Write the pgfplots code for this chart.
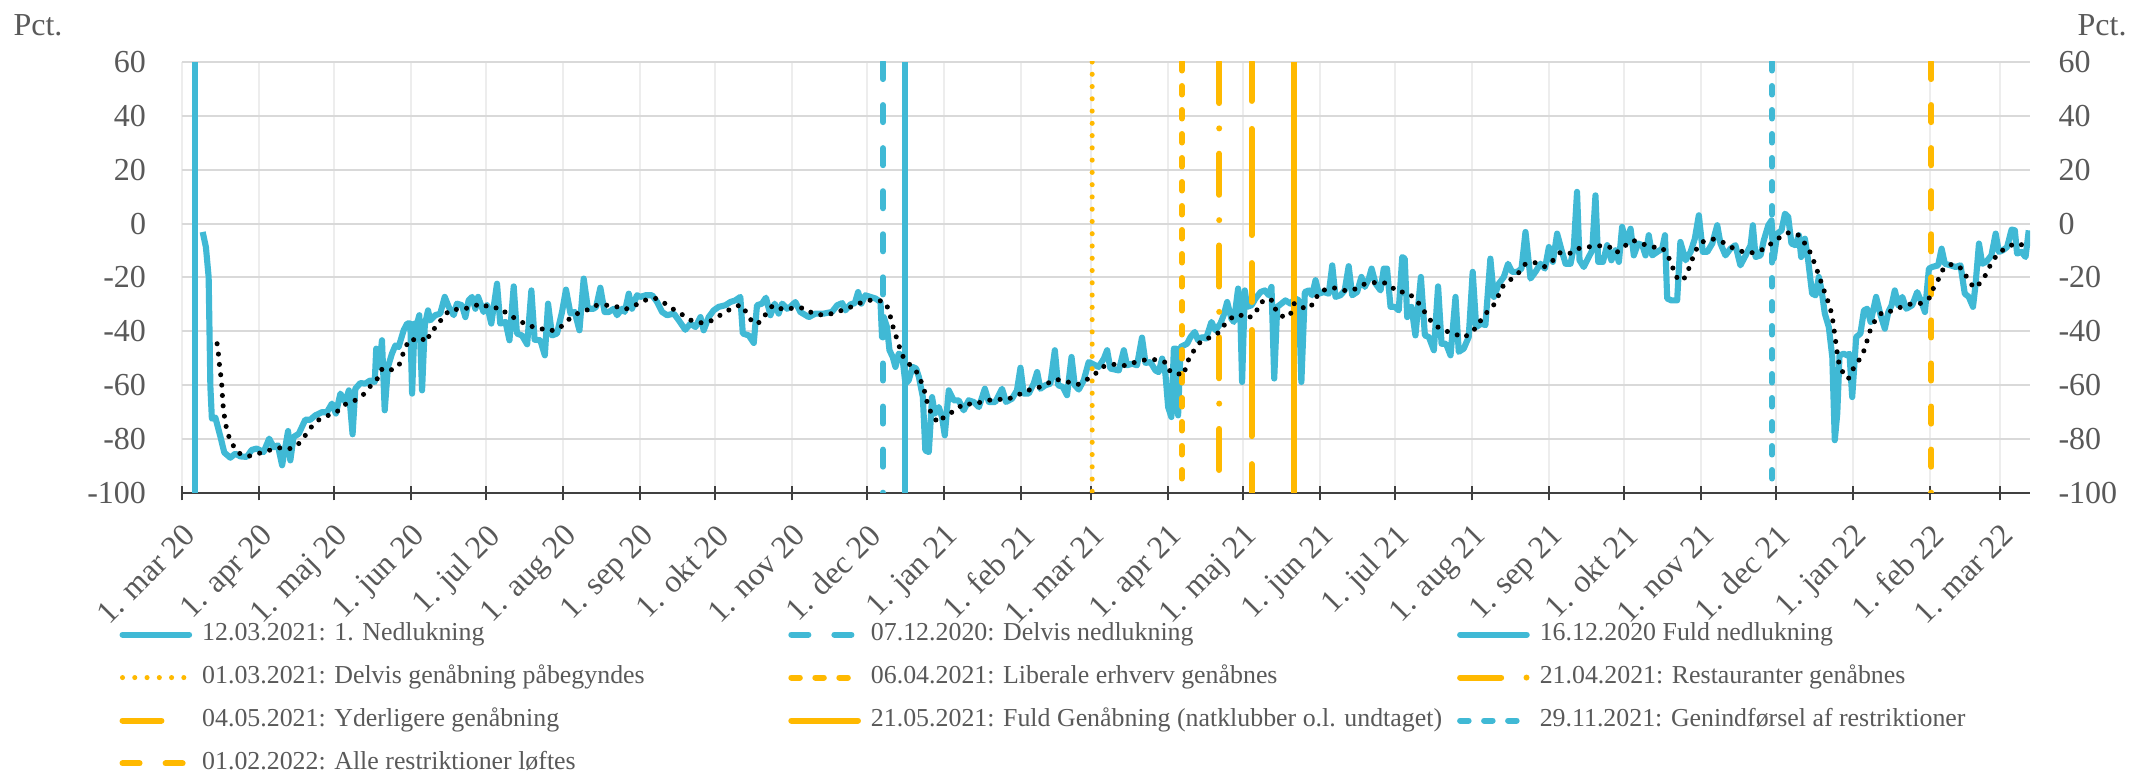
\documentclass[border=0pt]{standalone}
\usepackage{fontspec}
\setmainfont{Liberation Serif}
\usepackage{pgfplots}
\pgfplotsset{compat=1.18}
\definecolor{cblue}{HTML}{40B9D5}
\definecolor{cyel}{HTML}{FFB900}
\definecolor{ctext}{HTML}{595959}
\definecolor{cgridh}{HTML}{D9D9D9}
\definecolor{cgridv}{HTML}{EDEDED}
\definecolor{caxis}{HTML}{404040}

\pgfplotstableread{
d v
8.3 -3.1
9.6 -8.7
10.7 -19.8
11.4 -60.6
12 -72.4
13.4 -72
15.4 -79
17 -85
19.4 -86.9
21.4 -85.4
23.4 -86.4
26 -86.6
28 -84
30 -83.5
32.8 -84.8
35 -79.8
36.8 -83
38.5 -82.3
40.2 -89.7
42.6 -77
43.5 -87.9
44.8 -79.2
46.9 -78
49.5 -72.8
51.5 -72.8
53.5 -71.2
56.2 -70
58.2 -70
60.2 -66.8
61.8 -70.5
63.6 -63.1
65.6 -66.2
67 -61.9
68.5 -78.2
69.6 -61.3
71.6 -59.2
73.6 -59.4
75.6 -58.2
77.4 -58.8
78 -46.4
79.3 -53.2
80.3 -43.3
81.4 -69.3
82.7 -53.2
84.3 -48.3
85.7 -45.2
87 -45.8
89 -39.6
90.4 -37.1
91.7 -37.1
92.4 -63.1
93.4 -37.1
94.4 -37.1
95.3 -34
96.4 -61.9
97.5 -37.7
98.8 -32.2
99.7 -35.9
101.7 -34
103.7 -33.4
105.5 -27.2
107.1 -30.9
109.1 -34
110.4 -29.7
112.4 -30.3
113.8 -34.7
115.1 -28.5
116.5 -27.2
117.8 -31.6
118.9 -27.2
121.1 -32.8
122.5 -30.3
124.2 -37.1
126.5 -22.3
127.8 -37.1
129.9 -36.5
131.5 -43.3
133.2 -23.3
134.5 -40.8
136.5 -41.5
138.6 -44.8
140.3 -24.8
141.6 -43.1
143.9 -43.3
145.7 -48.9
147 -29.7
148.6 -41.5
150.6 -40.8
152.6 -32.8
154.2 -24.5
156 -33.4
157.7 -32.8
159.6 -39.6
161.3 -20.4
163 -31.6
165.3 -31.6
166.3 -30.9
168 -23.8
169.7 -32.8
171.4 -32.8
173.4 -31.6
174.7 -34
176.7 -31.6
177.8 -32.8
179.4 -26
180.7 -31.6
182.7 -26.6
184.1 -27.2
186.1 -26.6
188.8 -26.6
190.8 -29.1
192.8 -32.8
194.8 -34
197.5 -33.4
199.5 -35.9
202.1 -39.4
204.2 -37.1
206.2 -38.4
208.2 -34.7
209.5 -39.6
211.5 -34.7
213.5 -32.2
215.5 -30.9
218.2 -30.3
220.2 -29.1
222.2 -28.5
224.2 -27.2
225.2 -40.8
227.6 -41.5
229.6 -44.3
230.9 -30.3
232.9 -29.7
234.5 -27.5
236.3 -34
238 -29.7
239.6 -33.4
241 -29.7
243 -31.6
244.3 -30.9
246.3 -29.1
248.3 -32.8
251.7 -34.7
254.4 -33.4
257.7 -33.4
261 -32.8
263.1 -30.3
265.1 -29.5
266.4 -32.2
268.4 -30
270.2 -29.5
271.5 -25.4
272.8 -29.7
274.4 -26.6
276.4 -27.2
278.5 -27.8
280.5 -29.1
281.1 -42.1
281.8 -34.7
283.1 -38.4
284.1 -47
285.4 -49.5
286.5 -53.2
287.8 -48.3
289.2 -48.9
290.5 -59.4
291.8 -58.2
293.4 -53.2
294.8 -53.8
295.9 -56.9
297.5 -64.4
298.5 -84.2
299.9 -84.8
301.2 -64.4
302.3 -70.5
303.9 -68.1
305.2 -71.8
306.3 -78.6
307.9 -61.9
309.9 -65.6
311.9 -65.6
313.9 -69.3
315.9 -65.6
317.9 -66.2
320 -68.1
322.4 -61.3
324 -66.2
326.6 -66.2
329.3 -61.3
330.9 -66.2
333.3 -65
335.3 -61.9
336.7 -53.5
338 -63.1
340 -63.1
342 -59.4
343.4 -55.1
344.7 -61.3
346.7 -60
348.7 -59.4
350.5 -47
351.8 -60
353.7 -60.6
355.4 -63.7
357.2 -49.5
358.5 -60
360.1 -61.6
362.1 -58.2
364.1 -51.4
365.5 -52
368.1 -53.2
370.2 -50.1
371.5 -47
372.8 -53.8
376.2 -54.5
378.2 -47
379.5 -52.6
381.5 -52
383.5 -52.6
385.5 -42.3
386.9 -51.7
388.9 -51.4
390.9 -54.5
392.2 -55.1
393.6 -50.1
394.9 -55.7
396 -68.1
397.3 -71.8
398.3 -46.4
399.2 -46.4
400 -71.2
401 -45.8
402.3 -45.2
403.6 -44.6
405 -42.1
406.7 -40.2
408 -43.3
409.6 -42.1
411.2 -42.7
413.4 -36.5
415 -39.6
417 -37.1
418.3 -34
419.7 -29.1
421.4 -35.3
422.4 -36.5
424.1 -24.1
425 -34
425.7 -58.8
426.8 -24.8
427.7 -30.9
429.5 -30.3
431.1 -27.8
433.1 -25.4
434.8 -24.8
436.4 -26.6
437.5 -23.5
438.6 -57.5
439.8 -30.9
441.5 -29.7
443.1 -28.5
445.1 -29.7
447.1 -27.8
448.5 -28.5
449.5 -58.8
450.9 -25.4
452.5 -24.8
453.8 -26.6
455.2 -21
456.5 -26
458.5 -25.4
460.5 -26
461.9 -15.5
463.2 -27.2
465.2 -26.6
466.9 -24.8
468.5 -15.8
469.9 -26.6
471.9 -25.4
473.6 -19.8
475 -23.5
476.6 -20.4
477.7 -16.7
479.3 -22.3
481.3 -24.8
482.6 -16.7
483.9 -16.7
485.3 -30.9
487 -30.9
488.6 -32.2
490 -12.4
491 -13
492 -34.7
493.7 -30.9
495.3 -41.5
497.5 -19.8
499.1 -41.5
500.7 -42.1
502.7 -47
504.4 -23.3
505.8 -44.6
507.6 -44.6
509.4 -48.9
511.4 -27.2
512.7 -47.6
514.7 -46.4
516.7 -42.1
518.3 -17.9
519.7 -38.4
521.8 -37.1
523.4 -37.7
525.4 -13
526.8 -27.2
528.8 -22.3
530.8 -19.8
532.5 -14.9
534.1 -17.9
536.2 -17.9
537.9 -16.7
539.5 -3.1
541.5 -20.4
543.5 -17.9
545.5 -14.9
547.3 -16.7
548.9 -8.7
550.5 -14.2
552.2 -3.7
554 -9.9
555.6 -14.9
557.6 -14.9
558.9 -8.7
560.2 11.8
561.2 -13.6
562.9 -16.1
564.9 -12.4
566.3 -9.9
567.6 10.5
568.7 -14.2
570.6 -14.2
572.3 -8
574 -13.6
575.6 -9.9
577 -14.2
578.3 -1.2
579.9 -7.4
581.7 -1.9
583 -11.8
584.7 -7.4
586.4 -8
587.7 -11.8
589 -4.3
590.4 -11.8
592.4 -10.5
594.4 -9.3
595.5 -4.3
596.4 -27.8
598.1 -28.5
600.4 -28.5
601.7 -6.8
603.8 -13.6
605.8 -10.5
607.5 -5.6
609.1 3.1
610.7 -10.5
612.5 -10.5
614.5 -7.4
616.5 -0.6
617.8 -7.4
619.8 -11.8
621.8 -9.3
623.8 -8
625.8 -15.5
627.9 -11.8
629.9 -8
630.8 -0.6
631.9 -12.4
633.9 -11.8
635.2 -6.2
637 -0.6
638.3 1.2
639.2 -13
640.6 -3.7
642.3 -2.5
643.7 3.7
645 2.5
646.3 -7.4
647.9 -8
649.3 -4.3
650.2 -12.4
651.7 -5.6
653 -13.6
654.6 -26
656 -26.6
657.3 -19.8
658.4 -24.8
659.7 -33.4
661.3 -38.4
662.7 -49.5
663.7 -80.4
664.7 -70.5
665.6 -48.9
667.3 -48.3
668.7 -48.9
669.6 -48.3
670.7 -64.4
672.3 -42.1
674 -40.8
675.4 -32.2
676.7 -31.6
678.1 -36.5
680.3 -27.2
682.1 -34
683.8 -39
685.2 -32.8
686.5 -30.3
687.8 -24.8
689.2 -30.3
690.8 -27.2
692.4 -31.6
694.8 -30.3
696.8 -25.4
698.5 -29.1
699.9 -32.8
701.5 -16.7
702.8 -16.1
705.2 -15.5
706.6 -9.3
707.9 -14.9
710.2 -15.5
712.2 -16.1
714.2 -15.5
715.9 -26
717.5 -27.2
719.2 -30.9
720.2 -22.9
721.6 -7.4
722.9 -14.9
724.5 -14.2
726.6 -11.8
728.3 -3.7
729.6 -10.5
731.2 -9.9
732.9 -8.7
734.7 -2.2
736 -2.5
736.9 -11.1
738.7 -10.5
740.3 -12.4
741.6 -2.5
}\dailydata

\pgfplotstableread{
d v
14.1 -44.6
14.7 -48.9
15.1 -53
15.7 -57.2
16.1 -61.3
16.3 -65.3
16.7 -69.6
17.4 -73.6
18.2 -77.7
20.1 -81.7
22.5 -85.1
26.5 -86.4
30.5 -85.4
34.8 -84.2
38.8 -83.2
42.8 -83.7
46.2 -82.4
49.1 -79.2
51.4 -76
54.6 -73
58.5 -71.3
62.5 -69.6
66 -66.8
69.2 -65.8
72.7 -63.6
75.4 -60.6
78.3 -57.8
80.3 -54
83 -54.7
87 -53
89.7 -45.8
91.7 -42.7
93.7 -43.3
95.9 -42.5
98.5 -43.9
99.7 -40
102.8 -38
104.7 -34.4
108.2 -31.8
112.4 -31.9
116.2 -30.9
120.2 -29.7
123.8 -31.3
127.8 -31.3
131.2 -34
134.9 -35.6
138.8 -37.9
143 -38.6
147.3 -39.9
151.3 -39.1
154.4 -36.3
157.7 -33.7
161.7 -32.6
165.7 -30.4
169.5 -30.2
173.8 -30.6
177.8 -31.9
181.8 -30.4
185.7 -28.5
189.8 -27.6
193.7 -29.5
197.5 -31.9
201.1 -33.9
204.8 -36.1
209 -36.9
213.1 -35.9
216.9 -33.5
220.5 -31.6
224.4 -30.1
227 -33.4
229.3 -37.1
232.3 -36.6
234.7 -33.2
237.2 -30.4
241.2 -31.8
245.3 -31.4
249.7 -31.3
253.4 -33.4
257.7 -34
262 -33.2
266.1 -31.8
270.2 -30.4
274.2 -28.7
278.5 -28.2
282.5 -29.2
284.1 -33
285.1 -37.1
286.5 -41.1
287.8 -45
289.2 -48.9
292 -52.1
295 -55.1
296.9 -58.8
298.3 -62.6
299.3 -66.6
300.9 -70.5
303.5 -73.9
306.6 -71.3
310.6 -69.3
313.9 -66.8
317.9 -67.1
322.4 -65.8
326.6 -65.2
331.2 -65.3
335.2 -63.9
339.1 -62
343.4 -61.1
347.3 -59.4
351.1 -57.8
355.4 -58.7
359.6 -59.8
363.5 -57.8
366.8 -55.7
370.2 -53
374.6 -52.2
378.6 -52.7
382.9 -51.4
387.2 -50.5
391.6 -50.5
395.2 -51.6
396.9 -55.1
399.3 -55.4
401.9 -56.4
403.5 -52.7
404.7 -48.9
407 -46.5
409.1 -43.7
413 -42.2
416.6 -40.3
419.1 -36.9
422.5 -34.2
425 -33.9
427.7 -35.3
431.2 -33.4
432.4 -29.9
435.7 -27.8
438.2 -28.7
439.4 -32.7
442.7 -34.9
445.1 -33.7
446.5 -29.7
449.1 -30.1
450.9 -31.8
454.6 -29.7
456.2 -26
459.2 -24.4
462.9 -23.9
467.3 -24.9
470.8 -24.4
474.7 -22.5
478.2 -21.9
482.2 -21.8
484.7 -22.6
488.1 -25.4
491.6 -25.4
495.1 -27.7
498 -31.3
500 -34.3
502.7 -37.5
506.3 -39.5
510.7 -40.8
514.7 -42.3
518.3 -40.1
520.8 -36.9
523.4 -33.5
526.5 -30.6
528.5 -27
530.4 -23.3
533.5 -20.8
536.8 -18.2
539.5 -14.9
543.5 -14.5
547.1 -16
550.6 -13.6
553.6 -10.6
557.6 -11
560.4 -9.3
564.4 -8.7
568.5 -8.2
573 -8.5
575.9 -10.9
579 -8.5
582.7 -6.2
586.1 -7.4
590.4 -8.7
594.4 -8.9
596.8 -12.1
598.4 -15.8
600 -19.8
602.7 -21.3
604.7 -17.6
606.2 -13.9
607.8 -9.9
610.5 -6.8
614.7 -5.7
618.9 -7
622.5 -8.9
627.2 -10.6
630.8 -10.8
634.8 -9.6
638.2 -7.4
641.5 -5.2
645.3 -3.3
649.3 -4.3
651.7 -7.4
654.1 -11.1
655.7 -15.1
657.2 -18.9
658.6 -22.8
660.1 -26.7
661.7 -30.7
662.7 -34.7
663.3 -38.6
663.9 -42.7
665.1 -50.9
666.7 -54.8
669.1 -57.7
671.1 -53.9
673.4 -50.7
675.5 -47
678.1 -39.1
680.2 -35.4
683 -32.7
686.5 -32.5
690.5 -30.9
694 -29.9
698.3 -29.6
701.8 -27.5
703.4 -23.8
705.6 -20.2
707.5 -16.3
710.9 -15
714.9 -16.8
717 -20.4
719.6 -23.9
722.2 -22
724.6 -18.6
726.4 -14.9
728.9 -11.5
732.3 -9
736.3 -7.3
740.3 -8.2
}\avgdata

\begin{document}
\begin{tikzpicture}
\begin{axis}[
  at={(68.25pt,106.875pt)}, anchor=south west,
  width=693pt, height=161.625pt, scale only axis,
  xmin=0, xmax=742.1, ymin=-100, ymax=60,
  axis x line*=bottom, axis y line*=left,
  x axis line style={draw=caxis, line width=0.8pt},
  y axis line style={draw=none},
  xtick={0,31,61,92,122,153,184,214,245,275,306,337,365,396,426,457,487,518,549,579,610,640,671,702,730},
  xticklabels={1. mar 20,1. apr 20,1. maj 20,1. jun 20,1. jul 20,1. aug 20,1. sep 20,1. okt 20,1. nov 20,1. dec 20,1. jan 21,1. feb 21,1. mar 21,1. apr 21,1. maj 21,1. jun 21,1. jul 21,1. aug 21,1. sep 21,1. okt 21,1. nov 21,1. dec 21,1. jan 22,1. feb 22,1. mar 22},
  ytick={-100,-80,-60,-40,-20,0,20,40,60},
  xmajorgrids, ymajorgrids,
  x grid style={draw=cgridv, line width=0.75pt},
  y grid style={draw=cgridh, line width=0.75pt},
  xtick style={draw=caxis, line width=0.8pt},
  ytick style={draw=none},
  major tick length=5.6pt, tick align=center,
  /pgf/number format/assume math mode=true,
  tick label style={font=\fontsize{12}{14}\selectfont, text=ctext},
  xticklabel style={rotate=45, anchor=north east, inner sep=0pt},
  xticklabel shift=8pt,
  yticklabel style={anchor=east, inner sep=0pt},
  yticklabel shift=10.5pt,
  legend columns=3,
  legend cell align=left,
  legend image code/.code={\draw[#1, line cap=round] (0pt,0pt) -- (25pt,0pt);},
  legend style={draw=none, fill=none, at={(-0.0341,-0.298)}, anchor=north west,
    inner sep=0pt, row sep=6.6pt,
    font=\fontsize{9.7}{11}\selectfont, text=ctext,
    nodes={inner sep=0pt, text height=7pt, text depth=2.5pt},
    /tikz/every odd column/.style={column sep=3.75pt}},
]
\addplot[draw=cblue, line width=2.3pt, line join=round, forget plot] table[x=d, y=v] {\dailydata};

\addplot[draw=cblue, line width=2.25pt] coordinates {(5.4,-100) (5.4,60)};
\addlegendentry{\makebox[219.8pt][l]{12.03.2021: 1. Nedlukning}}
\addplot[draw=cblue, line width=2.25pt, line cap=round, dash pattern=on 6.4pt off 9.75pt] coordinates {(281.5,60) (281.5,-100)};
\addlegendentry{\makebox[219.8pt][l]{07.12.2020: Delvis nedlukning}}
\addplot[draw=cblue, line width=2.25pt] coordinates {(290.5,-100) (290.5,60)};
\addlegendentry{16.12.2020 Fuld nedlukning}
\addplot[draw=cyel, line width=1.9pt, line cap=round, dash pattern=on 0pt off 4.6pt] coordinates {(365.5,60) (365.5,-100)};
\addlegendentry{\makebox[219.8pt][l]{01.03.2021: Delvis genåbning påbegyndes}}
\addplot[draw=cyel, line width=2.25pt, line cap=round, dash pattern=on 3.2pt off 5.8pt] coordinates {(401.5,60) (401.5,-100)};
\addlegendentry{\makebox[219.8pt][l]{06.04.2021: Liberale erhverv genåbnes}}
\addplot[draw=cyel, line width=2.25pt, line cap=round, dash pattern=on 15.4pt off 9.5pt on 0pt off 9.5pt] coordinates {(416.5,60) (416.5,-100)};
\addlegendentry{21.04.2021: Restauranter genåbnes}
\addplot[draw=cyel, line width=2.25pt, line cap=round, dash pattern=on 14.6pt off 10.5pt on 39.8pt off 10.5pt] coordinates {(429.5,60) (429.5,-100)};
\addlegendentry{\makebox[219.8pt][l]{04.05.2021: Yderligere genåbning}}
\addplot[draw=cyel, line width=2.25pt] coordinates {(446.5,-100) (446.5,60)};
\addlegendentry{\makebox[219.8pt][l]{21.05.2021: Fuld Genåbning (natklubber o.l. undtaget)}}
\addplot[draw=cblue, line width=2.25pt, line cap=round, dash pattern=on 3.2pt off 5.8pt] coordinates {(638.5,60) (638.5,-100)};
\addlegendentry{29.11.2021: Genindførsel af restriktioner}
\addplot[draw=cyel, line width=2.25pt, line cap=round, dash pattern=on 6.4pt off 9.75pt] coordinates {(702.5,60) (702.5,-100)};
\addlegendentry{\makebox[219.8pt][l]{01.02.2022: Alle restriktioner løftes}}

\addplot[draw=black, line width=1.9pt, line cap=round, dash pattern=on 0pt off 3.9pt, forget plot] table[x=d, y=v] {\avgdata};
\end{axis}

\begin{axis}[
  at={(68.25pt,106.875pt)}, anchor=south west,
  width=693pt, height=161.625pt, scale only axis,
  xmin=0, xmax=742.1, ymin=-100, ymax=60,
  axis x line=none, axis y line*=right,
  y axis line style={draw=none},
  ytick={-100,-80,-60,-40,-20,0,20,40,60},
  ytick style={draw=none},
  /pgf/number format/assume math mode=true,
  yticklabel pos=right,
  yticklabel style={anchor=west, inner sep=0pt, font=\fontsize{12}{14}\selectfont, text=ctext},
  yticklabel shift=10.5pt,
]
\addplot[draw=none] coordinates {(0,0)};
\end{axis}

\node[anchor=base west, inner sep=0pt, text=ctext, font=\fontsize{12}{14}\selectfont] at (4.875pt,278.6pt) {Pct.};
\node[anchor=base west, inner sep=0pt, text=ctext, font=\fontsize{12}{14}\selectfont] at (778.9pt,278.25pt) {Pct.};

\pgfresetboundingbox
\path (0pt,0pt) rectangle (799.125pt,291.75pt);
\end{tikzpicture}
\end{document}
